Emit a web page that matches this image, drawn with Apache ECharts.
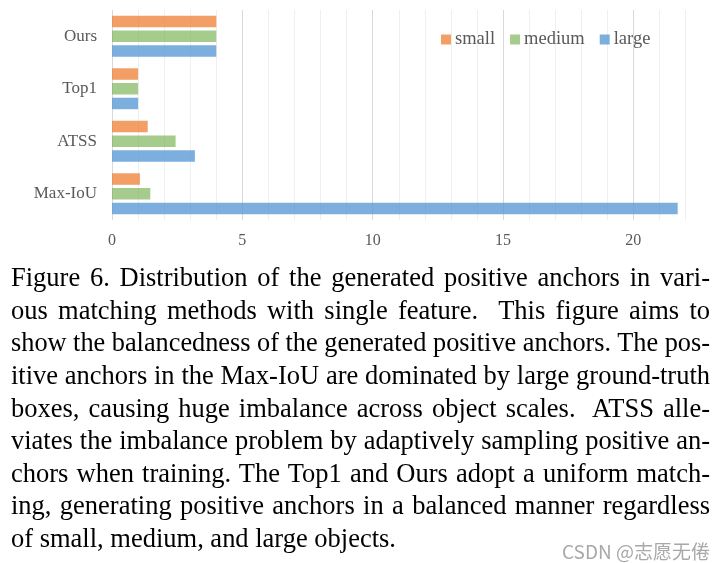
<!DOCTYPE html>
<html>
<head>
<meta charset="utf-8">
<script src="https://cdn.jsdelivr.net/npm/echarts@6/dist/echarts.min.js"></script>
<style>
  html, body { margin: 0; padding: 0; background: #fff; }
  #wrap { position: relative; width: 728px; height: 563px; overflow: hidden; }
  #chart { position: absolute; left: 0; top: 0; width: 728px; height: 563px; }
  #caption { position: absolute; left: 11px; top: 261px; width: 699px; }
  .ln { display: block; white-space: pre; font-family: 'Liberation Serif', 'Times New Roman', serif;
        font-size: 28px; line-height: 32.65px; height: 32.65px; color: #000; }
  .ln span { display: inline-block; transform-origin: 0 0; }
  #wm { position: absolute; left: 562px; top: 538px; font-family: 'Noto Sans CJK SC', 'Noto Sans', sans-serif;
        font-size: 19px; line-height: 26px; color: #a8a8a8; white-space: nowrap; }
</style>
</head>
<body>
<div id="wrap">
  <div id="chart"></div>
  <div id="caption"></div>
  <div id="wm">CSDN @志愿无倦</div>
</div>
<script>
// ---- data ----
const categories = ['Ours', 'Top1', 'ATSS', 'Max-IoU'];
const seriesNames = ['small', 'medium', 'large'];
const smallValues = [4.0, 1.0, 1.37, 1.07];
const mediumValues = [4.0, 1.0, 2.44, 1.47];
const largeValues = [4.0, 1.0, 3.18, 21.7];
const xTickLabels = ['0', '5', '10', '15', '20'];
const captionLines = [
  'Figure 6. Distribution of the generated positive anchors in vari-',
  'ous matching methods with single feature.  This figure aims to',
  'show the balancedness of the generated positive anchors. The pos-',
  'itive anchors in the Max-IoU are dominated by large ground-truth',
  'boxes, causing huge imbalance across object scales.  ATSS alle-',
  'viates the imbalance problem by adaptively sampling positive an-',
  'chors when training. The Top1 and Ours adopt a uniform match-',
  'ing, generating positive anchors in a balanced manner regardless',
  'of small, medium, and large objects.'
];

const colors = ['rgba(237,125,49,0.75)', 'rgba(112,173,71,0.62)', 'rgba(91,155,213,0.8)'];
const serif = "'Liberation Serif', 'Times New Roman', serif";
const valuesBySeries = [smallValues, mediumValues, largeValues];

const chart = echarts.init(document.getElementById('chart'), null, { renderer: 'canvas' });
chart.setOption({
  animation: false,
  backgroundColor: '#fff',
  legend: {
    data: seriesNames,
    left: 436, top: 25,
    itemWidth: 10, itemHeight: 10, itemGap: 15,
    icon: 'rect',
    textStyle: { fontFamily: serif, fontSize: 18.5, color: '#595959', padding: [0, 0, 0, -1] }
  },
  grid: { left: 112, top: 10, width: 573.5, height: 210, containLabel: false },
  xAxis: {
    type: 'value', min: 0, max: 22, interval: 1,
    axisLine: { show: false }, axisTick: { show: false },
    axisLabel: {
      fontFamily: serif, fontSize: 16, color: '#595959', margin: 13,
      formatter: v => xTickLabels.indexOf(String(v)) >= 0 ? String(v) : ''
    },
    splitLine: { show: true, lineStyle: { color: ['#d9d9d9', '#efefef', '#efefef', '#efefef', '#efefef'], width: 1 } }
  },
  yAxis: {
    type: 'category', data: categories, inverse: true,
    axisLine: { show: false }, axisTick: { show: false },
    axisLabel: { fontFamily: serif, fontSize: 17, color: '#595959', margin: 15 }
  },
  series: seriesNames.map((n, i) => ({
    name: n, type: 'bar', data: valuesBySeries[i],
    barWidth: 11.5, barGap: '28%',
    itemStyle: { color: colors[i] }
  }))
});

// ---- caption (justified lines) ----
const cap = document.getElementById('caption');
const W = 699, S = 0.946;
captionLines.forEach((t, i) => {
  const d = document.createElement('div');
  d.className = 'ln';
  const s = document.createElement('span');
  s.textContent = t;
  d.appendChild(s);
  cap.appendChild(d);
  const w = s.getBoundingClientRect().width;
  const last = i === captionLines.length - 1;
  if (!last) {
    const nSp = (t.match(/ /g) || []).length;
    if (w * S <= W) {
      s.style.wordSpacing = ((W / S - w) / nSp) + 'px';
      s.style.transform = 'scaleX(' + S + ')';
    } else {
      s.style.transform = 'scaleX(' + (W / w) + ')';
    }
  } else {
    s.style.transform = 'scaleX(' + S + ')';
  }
});
</script>
</body>
</html>
